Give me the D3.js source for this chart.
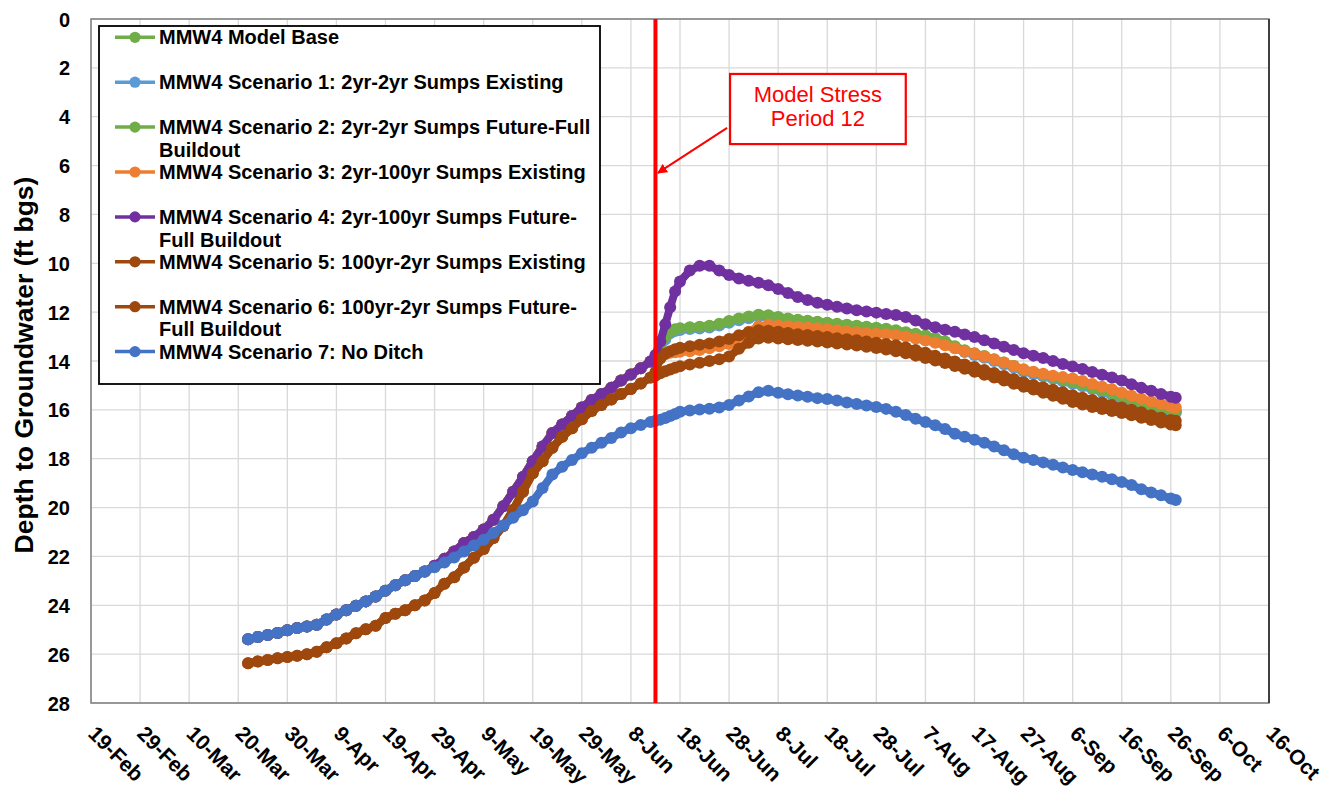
<!DOCTYPE html>
<html><head><meta charset="utf-8">
<script src="https://cdn.jsdelivr.net/npm/d3@7"></script>
<style>
body{margin:0;background:#fff}
svg{display:block}
text{font-family:"Liberation Sans",Arial,Helvetica,sans-serif}
</style></head>
<body><svg id="chart" width="1339" height="804"></svg>
<script>
// ---- DATA ----
// x axis: days since 19-Feb-2020
const tickDays = [0,10,20,30,40,50,60,70,80,90,100,110,120,130,140,150,160,170,180,190,200,210,220,230,240];
const tickLabels = ["19-Feb","29-Feb","10-Mar","20-Mar","30-Mar","9-Apr","19-Apr","29-Apr","9-May","19-May","29-May","8-Jun","18-Jun","28-Jun","8-Jul","18-Jul","28-Jul","7-Aug","17-Aug","27-Aug","6-Sep","16-Sep","26-Sep","6-Oct","16-Oct"];
const yTicks = [0,2,4,6,8,10,12,14,16,18,20,22,24,26,28];

// time steps (days since 19-Feb) before and after stress period 12
const daysPre = [32,34,36,38,40,42,44,46,48,50,52,54,56,58,60,62,64,66,68,70,72,74,76,78,80,82,84,86,88,90,92,94,96,98,100,102,104,106,108,110,112,114];
const daysPost = [115,116,117,118,119,120,122,124,126,128,130,132,134,136,138,140,142,144,146,148,150,152,154,156,158,160,162,164,166,168,170,172,174,176,178,180,182,184,186,188,190,192,194,196,198,200,202,204,206,208,210,212,214,216,218,220,221];

// depth to groundwater (ft bgs)
const groupAPre = [25.39,25.30,25.22,25.13,25.02,24.93,24.87,24.80,24.58,24.38,24.20,24.02,23.84,23.64,23.40,23.18,22.98,22.80,22.62,22.38,22.10,21.80,21.45,21.20,20.90,20.50,19.95,19.35,18.75,18.10,17.50,16.95,16.60,16.25,15.90,15.60,15.35,15.10,14.80,14.55,14.30,14.02];
const groupBPre = [26.37,26.30,26.24,26.17,26.12,26.07,26.00,25.90,25.72,25.55,25.36,25.14,24.98,24.84,24.52,24.35,24.20,24.00,23.80,23.50,23.12,22.85,22.45,22.05,21.70,21.25,20.75,20.10,19.35,18.60,18.10,17.55,17.10,16.75,16.38,16.05,15.80,15.58,15.35,15.15,14.92,14.68];
const noDitchPre = [25.39,25.30,25.22,25.13,25.02,24.93,24.87,24.80,24.58,24.38,24.20,24.02,23.84,23.64,23.40,23.18,22.98,22.80,22.62,22.44,22.25,22.04,21.80,21.55,21.32,21.04,20.73,20.42,20.11,19.75,19.20,18.65,18.33,18.05,17.78,17.55,17.35,17.15,16.93,16.75,16.62,16.50];

const basePost = [13.85,13.45,13.05,12.80,12.72,12.68,12.64,12.62,12.58,12.50,12.38,12.28,12.20,12.13,12.15,12.22,12.28,12.33,12.37,12.41,12.45,12.50,12.54,12.58,12.62,12.66,12.70,12.76,12.84,12.90,12.98,13.08,13.22,13.42,13.58,13.70,13.82,13.95,14.08,14.22,14.38,14.48,14.58,14.68,14.78,14.88,14.98,15.10,15.22,15.34,15.47,15.60,15.73,15.84,15.95,16.03,16.07];
const s1Post = [13.88,13.52,13.12,12.86,12.77,12.73,12.69,12.67,12.63,12.55,12.43,12.33,12.25,12.18,12.20,12.27,12.33,12.38,12.42,12.46,12.50,12.55,12.59,12.63,12.67,12.71,12.75,12.81,12.89,12.95,13.03,13.13,13.27,13.47,13.63,13.75,13.87,14.00,14.13,14.27,14.43,14.53,14.63,14.73,14.83,14.93,15.03,15.15,15.27,15.39,15.52,15.65,15.78,15.89,16.00,16.08,16.12];
const s2Post = [13.84,13.42,13.02,12.78,12.70,12.66,12.62,12.60,12.56,12.48,12.36,12.26,12.18,12.11,12.13,12.20,12.26,12.31,12.35,12.39,12.43,12.48,12.52,12.56,12.60,12.64,12.68,12.74,12.82,12.88,12.96,13.06,13.20,13.40,13.56,13.68,13.80,13.93,14.06,14.20,14.36,14.46,14.56,14.66,14.76,14.86,14.96,15.08,15.20,15.32,15.45,15.58,15.71,15.82,15.93,16.01,16.05];
const s3Post = [13.90,13.80,13.72,13.66,13.64,13.62,13.60,13.55,13.48,13.40,13.30,13.05,12.80,12.58,12.52,12.55,12.58,12.60,12.63,12.66,12.70,12.74,12.78,12.82,12.85,12.88,12.90,12.94,13.00,13.08,13.16,13.25,13.36,13.48,13.60,13.70,13.82,13.94,14.06,14.20,14.34,14.44,14.52,14.60,14.66,14.72,14.82,14.94,15.05,15.16,15.30,15.42,15.55,15.66,15.76,15.86,15.90];
const s4Post = [13.75,13.20,12.50,11.80,11.15,10.75,10.30,10.10,10.10,10.30,10.48,10.62,10.72,10.80,10.90,11.05,11.22,11.38,11.50,11.62,11.70,11.78,11.85,11.92,11.97,12.02,12.08,12.12,12.20,12.34,12.50,12.62,12.72,12.80,12.92,13.02,13.15,13.28,13.42,13.55,13.68,13.78,13.88,14.00,14.12,14.23,14.33,14.45,14.56,14.68,14.80,14.95,15.10,15.22,15.35,15.46,15.50];
const s5Post = [14.60,14.50,14.42,14.35,14.28,14.22,14.14,14.07,14.00,13.93,13.82,13.50,13.25,13.08,13.05,13.08,13.11,13.14,13.17,13.20,13.24,13.28,13.32,13.37,13.42,13.47,13.53,13.60,13.68,13.78,13.88,13.98,14.08,14.20,14.32,14.44,14.56,14.68,14.80,14.93,15.05,15.17,15.30,15.42,15.55,15.68,15.78,15.88,15.97,16.05,16.13,16.22,16.32,16.42,16.52,16.60,16.63];
const s6Post = [14.45,13.90,13.70,13.60,13.52,13.46,13.40,13.33,13.28,13.20,13.10,12.95,12.82,12.74,12.76,12.80,12.85,12.90,12.94,12.98,13.02,13.07,13.11,13.15,13.20,13.25,13.30,13.36,13.45,13.55,13.66,13.78,13.90,14.02,14.14,14.25,14.37,14.49,14.61,14.74,14.87,14.98,15.08,15.18,15.28,15.40,15.50,15.60,15.70,15.80,15.90,16.00,16.10,16.22,16.32,16.42,16.45];
const s7Post = [16.45,16.40,16.33,16.25,16.17,16.08,16.03,15.99,15.95,15.90,15.80,15.62,15.45,15.28,15.22,15.30,15.36,15.41,15.46,15.52,15.56,15.62,15.70,15.76,15.82,15.88,15.96,16.08,16.21,16.36,16.50,16.63,16.78,16.98,17.10,17.22,17.35,17.50,17.65,17.82,17.96,18.05,18.15,18.25,18.36,18.46,18.55,18.65,18.74,18.84,18.95,19.08,19.25,19.38,19.50,19.63,19.69];

const seriesNames = [
  ["MMW4 Model Base"],
  ["MMW4 Scenario 1: 2yr-2yr Sumps Existing"],
  ["MMW4 Scenario 2: 2yr-2yr Sumps Future-Full","Buildout"],
  ["MMW4 Scenario 3: 2yr-100yr Sumps Existing"],
  ["MMW4 Scenario 4: 2yr-100yr Sumps Future-","Full Buildout"],
  ["MMW4 Scenario 5: 100yr-2yr Sumps Existing"],
  ["MMW4 Scenario 6: 100yr-2yr Sumps Future-","Full Buildout"],
  ["MMW4 Scenario 7: No Ditch"]
];
const seriesColors = ["#70AD47","#5B9BD5","#70AD47","#ED7D31","#7030A0","#9E480E","#9E480E","#4472C4"];
const seriesValues = [
  groupAPre.concat(basePost),
  groupAPre.concat(s1Post),
  groupAPre.concat(s2Post),
  groupAPre.concat(s3Post),
  groupAPre.concat(s4Post),
  groupBPre.concat(s5Post),
  groupBPre.concat(s6Post),
  noDitchPre.concat(s7Post)
];
const allDays = daysPre.concat(daysPost);

const stressPeriodDay = 115; // 13-Jun, Model Stress Period 12
const annotationLines = ["Model Stress","Period 12"];

// ---- LAYOUT ----
const svg = d3.select("#chart");
const L = 91, T = 19, R = 1269, B = 703;
const x = d3.scaleLinear().domain([0,240]).range([L,R]);
const y = d3.scaleLinear().domain([0,28]).range([T,B]);

svg.append("rect").attr("width",1339).attr("height",804).attr("fill","#fff");

// grid
const g = svg.append("g");
g.selectAll("line.v").data(tickDays).join("line")
  .attr("x1",d=>x(d)).attr("x2",d=>x(d)).attr("y1",T).attr("y2",B)
  .attr("stroke","#d9d9d9").attr("stroke-width",1.3);
g.selectAll("line.h").data(yTicks).join("line")
  .attr("x1",L).attr("x2",R).attr("y1",d=>y(d)).attr("y2",d=>y(d))
  .attr("stroke","#d9d9d9").attr("stroke-width",1.3);

// y axis labels
svg.append("g").selectAll("text").data(yTicks).join("text")
  .attr("x",70).attr("y",d=>y(d)+7.5)
  .attr("text-anchor","end").attr("font-weight","bold").attr("font-size",20)
  .attr("fill","#000").text(d=>d);

// x axis labels
svg.append("g").selectAll("text").data(tickDays).join("text")
  .attr("transform",(d)=>`translate(${x(d)-4},${735}) rotate(45)`)
  .attr("font-weight","bold").attr("font-size",21).attr("fill","#000")
  .text((d,i)=>tickLabels[i]);

// y title
svg.append("text").attr("transform","translate(33,365) rotate(-90)")
  .attr("text-anchor","middle").attr("font-weight","bold").attr("font-size",26.5)
  .text("Depth to Groundwater (ft bgs)");

// series
const line = d3.line().x((d)=>x(d[0])).y(d=>y(d[1]));
seriesValues.forEach((vals,i)=>{
  const pts = allDays.map((d,j)=>[d,vals[j]]);
  const sg = svg.append("g");
  sg.append("path").datum(pts).attr("d",line).attr("fill","none")
    .attr("stroke",seriesColors[i]).attr("stroke-width",8).attr("stroke-linejoin","round");
  sg.selectAll("circle").data(pts).join("circle")
    .attr("cx",d=>x(d[0])).attr("cy",d=>y(d[1])).attr("r",6)
    .attr("fill",seriesColors[i]);
});

// plot border
svg.append("rect").attr("x",L).attr("y",T).attr("width",R-L).attr("height",B-T)
  .attr("fill","none").attr("stroke","#7f7f7f").attr("stroke-width",1.5);
svg.append("line").attr("x1",R).attr("x2",R).attr("y1",T).attr("y2",B)
  .attr("stroke","#404040").attr("stroke-width",2);

// stress period line
svg.append("line").attr("x1",x(stressPeriodDay)).attr("x2",x(stressPeriodDay))
  .attr("y1",T).attr("y2",B).attr("stroke","#FF0000").attr("stroke-width",4);

// legend
const lg = svg.append("g");
lg.append("rect").attr("x",99).attr("y",26).attr("width",501).attr("height",358)
  .attr("fill","#fff").attr("stroke","#000").attr("stroke-width",1.8);
seriesNames.forEach((lines,i)=>{
  const cy = 37.3 + 44.9*i;
  lg.append("line").attr("x1",115).attr("x2",155).attr("y1",cy).attr("y2",cy)
    .attr("stroke",seriesColors[i]).attr("stroke-width",3.5);
  lg.append("circle").attr("cx",135).attr("cy",cy).attr("r",5.6).attr("fill",seriesColors[i]);
  const t = lg.append("text").attr("x",159).attr("y",cy+7)
    .attr("font-weight","bold").attr("font-size",20).attr("fill","#000");
  lines.forEach((ln,k)=>t.append("tspan").attr("x",159).attr("dy",k===0?0:22.7).text(ln));
});

// annotation
const defs = svg.append("defs");
defs.append("marker").attr("id","arr").attr("viewBox","0 0 10 10").attr("refX",9).attr("refY",5)
  .attr("markerWidth",5).attr("markerHeight",5).attr("orient","auto")
  .append("path").attr("d","M0,0 L10,5 L0,10 z").attr("fill","#FF0000");
svg.append("line").attr("x1",x(129.6)).attr("y1",y(4.46)).attr("x2",x(115.5)).attr("y2",y(6.3))
  .attr("stroke","#FF0000").attr("stroke-width",2).attr("marker-end","url(#arr)");
svg.append("rect").attr("x",x(130.2)).attr("y",y(2.25)).attr("width",x(166)-x(130.2)).attr("height",y(5.12)-y(2.25))
  .attr("fill","#fff").attr("stroke","#FF0000").attr("stroke-width",2.2);
annotationLines.forEach((t,i)=>{
  svg.append("text").attr("x",(x(130.2)+x(166))/2).attr("y",y(2.25)+28+i*24)
    .attr("text-anchor","middle").attr("font-size",22).attr("fill","#FF0000").text(t);
});
</script></body></html>
